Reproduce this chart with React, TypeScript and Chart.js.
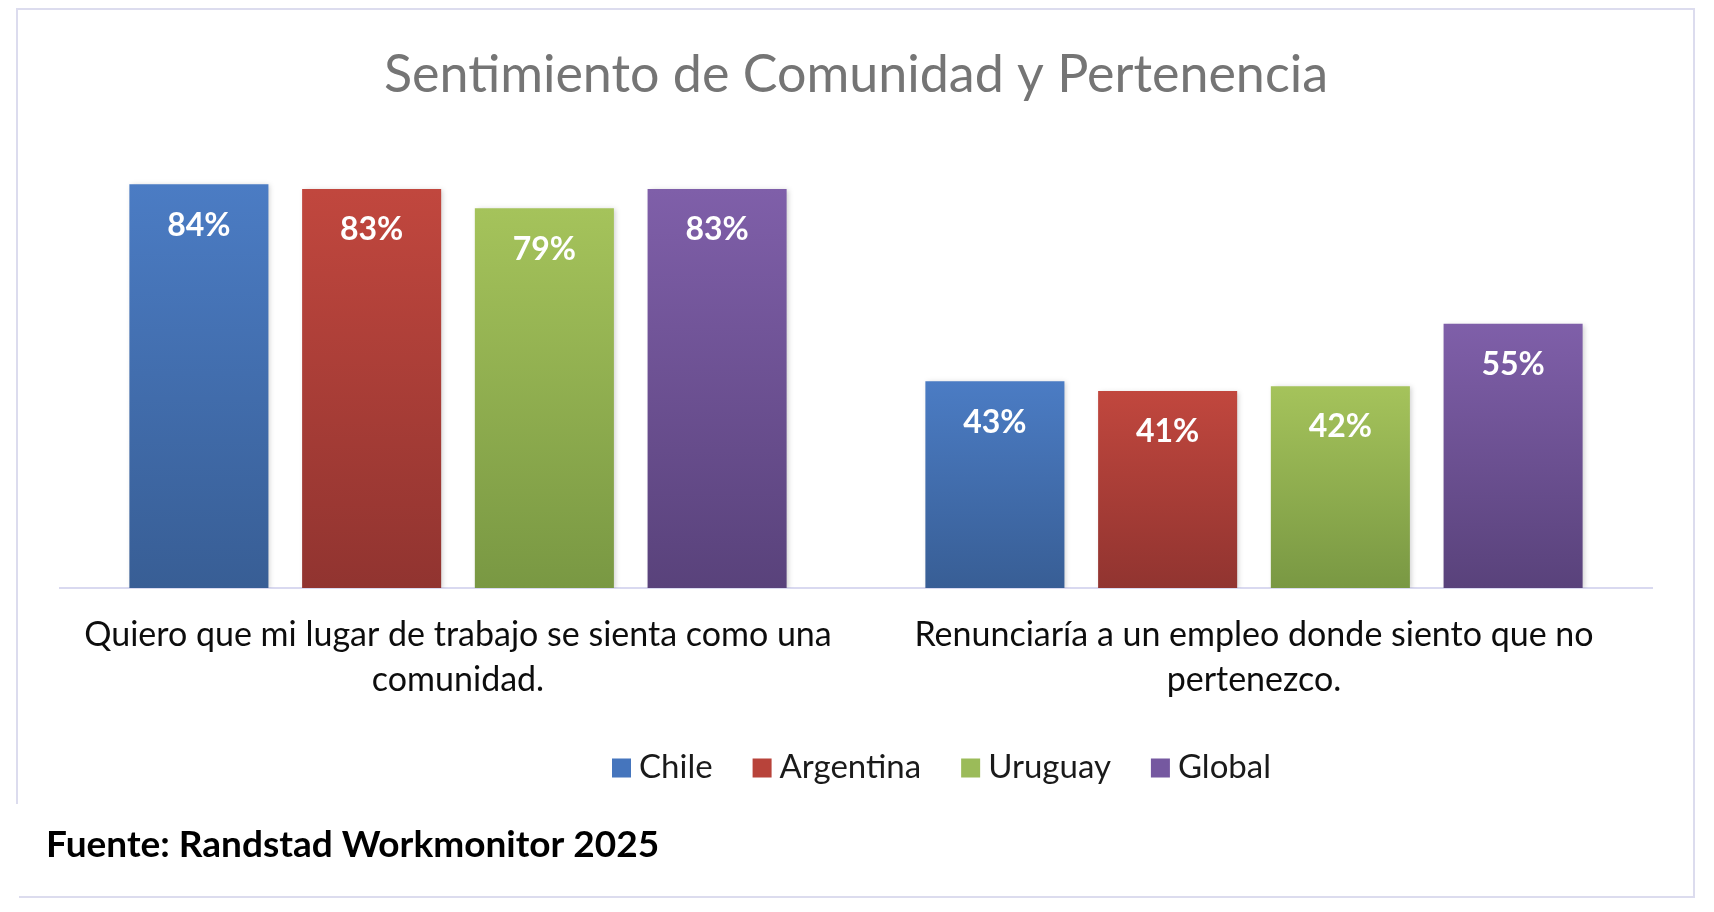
import React, { useEffect, useRef } from 'react';
import { Chart, registerables } from 'chart.js';

Chart.register(...registerables);

// Survey statements (x categories), split into display lines
const categories: string[][] = [
  ['Quiero que mi lugar de trabajo se sienta como una', 'comunidad.'],
  ['Renunciaría a un empleo donde siento que no', 'pertenezco.'],
];

const seriesNames = ['Chile', 'Argentina', 'Uruguay', 'Global'];
const chileValues = [84, 43];
const argentinaValues = [83, 41];
const uruguayValues = [79, 42];
const globalValues = [83, 55];

const titleText = 'Sentimiento de Comunidad y Pertenencia';
const sourceText = 'Fuente: Randstad Workmonitor 2025';

// Each bar is shaded from a light top to a darker base
const topColors = ['#4b7cc4', '#c1473e', '#a5c35b', '#7f5fa9'];
const bottomColors = ['#385e95', '#913430', '#799843', '#59427b'];
const legendColors = ['#4575bd', '#b8433a', '#9bbb59', '#7558a0'];

const FONT = 'Lato, "Open Sans", sans-serif';
const W = 1714;
const H = 912;

export default function App() {
  const canvasRef = useRef<HTMLCanvasElement | null>(null);

  useEffect(() => {
    const canvas = canvasRef.current;
    if (!canvas) return;

    const allValues = [chileValues, argentinaValues, uruguayValues, globalValues];

    const barFill = (i: number) => (ctx: any) => {
      const chart = ctx.chart;
      const yScale = chart.scales?.y;
      if (!chart.chartArea || !yScale || ctx.parsed == null) return topColors[i];
      const top = yScale.getPixelForValue(ctx.parsed.y);
      const base = yScale.getPixelForValue(0);
      const g = chart.ctx.createLinearGradient(0, top, 0, base);
      g.addColorStop(0, topColors[i]);
      g.addColorStop(1, bottomColors[i]);
      return g;
    };

    const framePlugin = {
      id: 'frame',
      beforeDraw(chart: any) {
        const c = chart.ctx;
        c.save();
        c.fillStyle = '#ffffff';
        c.fillRect(0, 0, chart.width, chart.height);
        c.strokeStyle = '#dcdcee';
        c.lineWidth = 2;
        c.beginPath();
        c.moveTo(17, 804);
        c.lineTo(17, 9);
        c.lineTo(1694, 9);
        c.lineTo(1694, 897);
        c.lineTo(19, 897);
        c.stroke();
        c.restore();
      },
    };

    const shadowPlugin = {
      id: 'barShadow',
      beforeDatasetsDraw(chart: any) {
        const c = chart.ctx;
        c.save();
        c.shadowColor = 'rgba(0,0,0,0.18)';
        c.shadowBlur = 5;
        c.shadowOffsetX = 2;
        c.shadowOffsetY = 1;
      },
      afterDatasetsDraw(chart: any) {
        chart.ctx.restore();
      },
    };

    const valueLabels = {
      id: 'valueLabels',
      afterDatasetsDraw(chart: any) {
        const c = chart.ctx;
        c.save();
        c.fillStyle = '#ffffff';
        c.font = `bold 32px ${FONT}`;
        c.textAlign = 'center';
        c.textBaseline = 'middle';
        chart.data.datasets.forEach((ds: any, di: number) => {
          const meta = chart.getDatasetMeta(di);
          meta.data.forEach((bar: any, j: number) => {
            c.fillText(`${ds.data[j]}%`, bar.x, bar.y + 41);
          });
        });
        c.restore();
      },
    };

    const legendAndSource = {
      id: 'legendAndSource',
      afterDraw(chart: any) {
        const c = chart.ctx;
        c.save();
        c.font = `33px ${FONT}`;
        c.textBaseline = 'middle';
        c.textAlign = 'left';
        const y = 767;
        let x = 612;
        const box = 19;
        chart.data.datasets.forEach((ds: any, i: number) => {
          c.fillStyle = legendColors[i];
          c.fillRect(x, y - box / 2 + 1, box, box);
          x += box + 8;
          c.fillStyle = '#1a1a1a';
          c.fillText(ds.label, x, y);
          x += c.measureText(ds.label).width + 40;
        });

        c.font = `bold 37px ${FONT}`;
        c.fillStyle = '#000000';
        c.fillText(sourceText, 46, 845);
        c.restore();
      },
    };

    const chart = new Chart(canvas, {
      type: 'bar',
      data: {
        labels: categories,
        datasets: seriesNames.map((name, i) => ({
          label: name,
          data: allValues[i],
          backgroundColor: barFill(i),
          borderWidth: 0,
          barPercentage: 0.805,
          categoryPercentage: 0.868,
        })),
      },
      options: {
        responsive: false,
        animation: false,
        devicePixelRatio: 1,
        layout: { padding: { left: 60, right: 62, top: 0, bottom: 184 } },
        plugins: {
          legend: { display: false },
          tooltip: { enabled: false },
          title: {
            display: true,
            text: titleText,
            color: '#757575',
            font: { family: FONT, size: 52, weight: 'normal', lineHeight: 1.2 },
            padding: { top: 44, bottom: 1 },
          },
        },
        scales: {
          x: {
            grid: { display: false, drawTicks: false },
            border: { display: true, color: '#d9d9f0', width: 2 },
            ticks: {
              color: '#0d0d0d',
              font: { family: FONT, size: 34, lineHeight: 45 / 34 },
              padding: 25,
              maxRotation: 0,
              autoSkip: false,
            },
          },
          y: { display: false, min: 0, max: 100 },
        },
      },
      plugins: [framePlugin, shadowPlugin, valueLabels, legendAndSource],
    });

    return () => chart.destroy();
  }, []);

  return (
    <div style={{ position: 'fixed', left: 0, top: 0, width: W, height: H, background: '#fff' }}>
      <canvas ref={canvasRef} width={W} height={H} style={{ display: 'block', width: W, height: H }} />
    </div>
  );
}
